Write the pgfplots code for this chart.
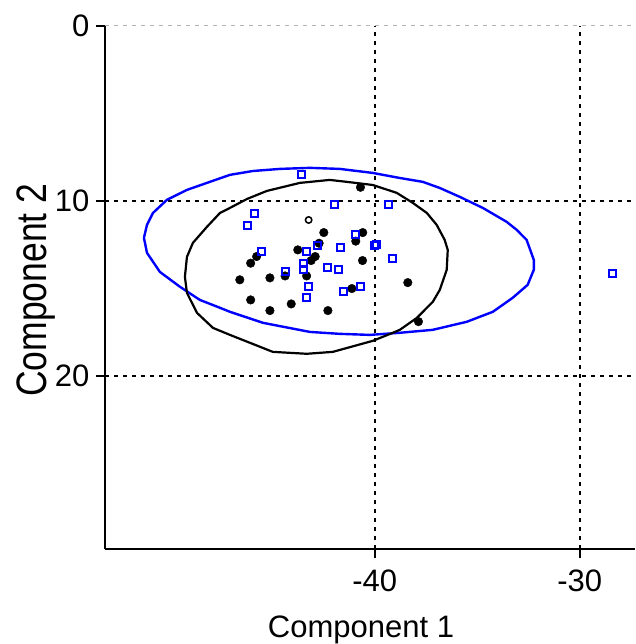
\documentclass[border=0pt]{standalone}
\usepackage{fontspec}
\setmainfont{Liberation Sans}
\usepackage{pgfplots}
\pgfplotsset{compat=1.18}

\newcommand{\bigfont}{\fontsize{31}{37}\selectfont}

\begin{document}
\begin{tikzpicture}
\begin{axis}[
    scale only axis,
    width=530pt, height=523pt,
    xmin=-53.17, xmax=-27.3,
    ymin=-29.9, ymax=0,
    axis x line*=bottom, axis y line*=left,
    axis line style={line width=2pt, black},
    xtick={-40,-30}, xticklabels={-40,-30},
    ytick={-20,-10}, yticklabels={-20,-10},
    extra y ticks={0}, extra y tick labels={0},
    extra y tick style={grid style={gray!60, line width=1pt, dash pattern=on 4pt off 5pt}},
    tick align=outside, major tick length=9pt,
    tick style={line width=2pt, black},
    ticklabel style={font=\bigfont},
    xticklabel style={yshift=-8pt},
    yticklabel style={xshift=-3pt},
    xmajorgrids, ymajorgrids,
    grid style={black, line width=2pt, dash pattern=on 4pt off 5pt},
    xlabel={Component 1}, ylabel={Component 2},
    label style={inner sep=0pt},
    xlabel style={font=\bigfont, at={(axis description cs:0.483,-0.1205)}, anchor=north, yshift=-4pt},
    ylabel style={font=\fontsize{35.5}{40}\selectfont, yscale=1.2,
        at={(axis description cs:-0.131,0.495)}, anchor=center, fill=white},
]
% blue ellipse
\addplot[blue, line width=2.4pt, line join=round] coordinates {
(-51.27,-12.11) (-51.12,-11.37) (-50.83,-10.69) (-50.15,-9.94) (-49.17,-9.37)
(-48.05,-8.91) (-47.07,-8.51) (-45.95,-8.29) (-44.63,-8.17) (-43.17,-8.11)
(-41.71,-8.17) (-40.10,-8.40) (-38.78,-8.69) (-37.66,-8.91) (-36.83,-9.26)
(-35.85,-9.77) (-34.73,-10.40) (-33.56,-11.20) (-33.07,-11.66) (-32.59,-12.23)
(-32.24,-13.37) (-32.24,-13.94) (-32.54,-14.80) (-33.27,-15.54) (-34.24,-16.34)
(-35.51,-16.91) (-37.17,-17.37) (-38.78,-17.54) (-40.24,-17.66) (-41.71,-17.60)
(-43.17,-17.49) (-45.46,-16.97) (-47.07,-16.34) (-47.56,-16.11) (-48.54,-15.66)
(-49.51,-14.91) (-50.49,-14.06) (-51.12,-12.97) (-51.27,-12.11)
};
% black ellipse
\addplot[black, line width=2.2pt, line join=round] coordinates {
(-49.27,-14.34) (-49.17,-13.20) (-48.88,-12.40) (-48.20,-11.49) (-47.56,-10.69)
(-47.07,-10.40) (-46.24,-9.89) (-45.27,-9.43) (-43.66,-8.97) (-42.20,-8.80)
(-41.37,-8.91) (-40.10,-9.09) (-38.93,-9.54) (-38.15,-10.11) (-37.46,-10.69)
(-36.98,-11.37) (-36.59,-12.23) (-36.44,-12.80) (-36.49,-13.94) (-36.83,-15.09)
(-37.17,-15.77) (-37.95,-16.69) (-38.78,-17.37) (-39.12,-17.54) (-40.10,-18.00)
(-42.05,-18.63) (-43.32,-18.74) (-44.98,-18.63) (-47.07,-17.66) (-47.90,-17.26)
(-48.68,-16.40) (-49.17,-15.26) (-49.27,-14.34)
};
% black filled points
\addplot[only marks, mark=*, mark size=4.3pt, black] coordinates {
(-40.70,-9.22) (-42.49,-11.81) (-40.59,-11.81) (-40.93,-12.30) (-42.72,-12.42)
(-43.76,-12.80) (-45.77,-13.18) (-46.06,-13.56) (-42.91,-13.18) (-43.11,-13.41)
(-40.60,-13.41) (-46.59,-14.51) (-45.12,-14.40) (-44.38,-14.29) (-43.33,-14.29)
(-41.12,-15.01) (-46.06,-15.66) (-44.08,-15.89) (-45.12,-16.27) (-42.29,-16.27)
(-38.39,-14.67) (-37.87,-16.90)
};
% open point
\addplot[only marks, mark=*, mark size=3.2pt, black, line width=1.5pt,
    mark options={draw=black, fill=white}] coordinates {
(-43.23,-11.09)
};
% blue squares
\addplot[only marks, mark=square, mark size=3.5pt, blue, line width=2pt,
    mark options={draw=blue, fill=none}] coordinates {
(-43.56,-8.50) (-41.97,-10.21) (-39.33,-10.21) (-45.87,-10.70) (-46.20,-11.43)
(-40.93,-11.93) (-42.81,-12.53) (-41.66,-12.69) (-45.55,-12.91) (-43.33,-12.91)
(-40.02,-12.53) (-39.90,-12.50) (-39.14,-13.30) (-43.46,-13.60) (-43.46,-13.90)
(-44.38,-14.02) (-42.29,-13.79) (-41.77,-13.90) (-43.23,-14.90) (-40.70,-14.90)
(-41.55,-15.16) (-43.33,-15.50) (-28.40,-14.17)
};
\end{axis}
\pgfresetboundingbox
\path (-105pt,-95pt) rectangle (530pt,549pt);
\end{tikzpicture}
\end{document}
